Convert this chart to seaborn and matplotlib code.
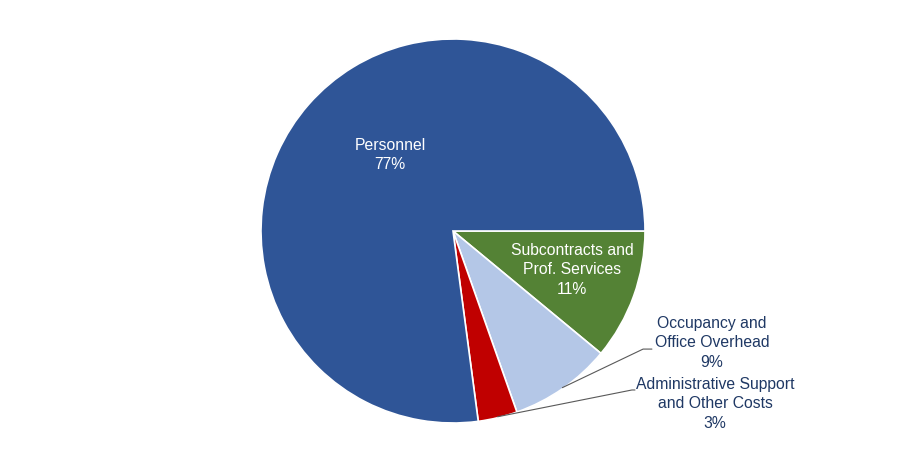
import numpy as np
import matplotlib
matplotlib.use("Agg")
import matplotlib.pyplot as plt
import seaborn as sns

categories = ["Subcontracts and\nProf. Services", "Occupancy and\nOffice Overhead",
              "Administrative Support\nand Other Costs", "Personnel"]
values = [11.0, 8.6, 3.3, 77.1]
colors = ["#548235", "#B4C7E7", "#C00000", "#2F5597"]

sns.set_theme(style="white")
plt.rcParams['font.family'] = ['Liberation Sans', 'DejaVu Sans']

W, H = 904, 462
fig = plt.figure(figsize=(W / 100, H / 100), dpi=100)
cx, cy, R = 453, 231, 192
ax = fig.add_axes([(cx - R) / W, (H - cy - R) / H, 2 * R / W, 2 * R / H])
wedges, _ = ax.pie(values, colors=colors, startangle=0, counterclock=False,
                   wedgeprops=dict(edgecolor="white", linewidth=1.2), radius=1.0)
ax.set_xlim(-1, 1)
ax.set_ylim(-1, 1)
ax.axis("off")

fs = 11.3
ls = 1.38
navy = "#1F3864"
# inside labels
ax.text(-0.328, 0.396, f"Personnel\n{values[3]:.0f}%", ha="center", va="center",
        color="white", fontsize=fs, linespacing=ls)
ax.text(0.620, -0.203, f"{categories[0]}\n{values[0]:.0f}%", ha="center", va="center",
        color="white", fontsize=fs, linespacing=ls)

# outside labels with leader lines
outs = [(1, (1.349, -0.583), (0.990, -0.615), (1.036, -0.615)),
        (2, (1.365, -0.901), (0.932, -0.828), (0.948, -0.828))]
for i, tpos, elbow, end in outs:
    w = wedges[i]
    ang = np.deg2rad((w.theta1 + w.theta2) / 2)
    start = (np.cos(ang) * 0.995, np.sin(ang) * 0.995)
    ax.plot([start[0], elbow[0], end[0]], [start[1], elbow[1], end[1]],
            color="#595959", lw=0.8, clip_on=False)
    ax.text(tpos[0], tpos[1], f"{categories[i]}\n{values[i]:.0f}%", ha="center", va="center",
            color=navy, fontsize=fs, linespacing=ls)

fig.savefig("out.png", dpi=100, facecolor="white")
